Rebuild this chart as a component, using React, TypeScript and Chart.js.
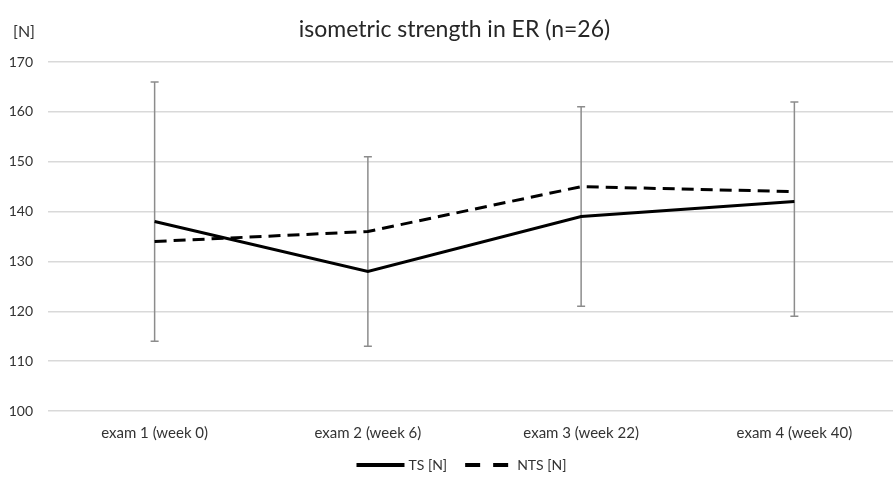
import React, { useEffect, useRef } from "react";
import { Chart, registerables } from "chart.js";

Chart.register(...registerables);

const categories = ["exam 1 (week 0)", "exam 2 (week 6)", "exam 3 (week 22)", "exam 4 (week 40)"];
const seriesNames = ["TS [N]", "NTS [N]"];
const tsValues = [138, 128, 139, 142];
const ntsValues = [134, 136, 145, 144];
const errLow = [114, 113, 121, 119];
const errHigh = [166, 151, 161, 162];
const yTicks = [100, 110, 120, 130, 140, 150, 160, 170];
const chartTitle = "isometric strength in ER (n=26)";
const unitLabel = "[N]";

const FONT = "Lato, 'Open Sans', sans-serif";
const TEXT = "#333333";

const errorBarPlugin = {
  id: "errorBars",
  beforeDatasetsDraw(chart: any) {
    const { ctx, scales } = chart;
    const x = scales.x;
    const y = scales.y;
    ctx.save();
    ctx.strokeStyle = "#8c8c8c";
    ctx.lineWidth = 1.5;
    for (let i = 0; i < categories.length; i++) {
      const px = x.getPixelForValue(i);
      const yl = y.getPixelForValue(errLow[i]);
      const yh = y.getPixelForValue(errHigh[i]);
      ctx.beginPath();
      ctx.moveTo(px, yl);
      ctx.lineTo(px, yh);
      ctx.moveTo(px - 4, yl);
      ctx.lineTo(px + 4, yl);
      ctx.moveTo(px - 4, yh);
      ctx.lineTo(px + 4, yh);
      ctx.stroke();
    }
    ctx.restore();
  },
};

const decorPlugin = {
  id: "decor",
  afterDraw(chart: any) {
    const { ctx, chartArea } = chart;
    const mid = (chartArea.left + chartArea.right) / 2;
    ctx.save();
    // title
    ctx.font = `23px ${FONT}`;
    ctx.fillStyle = "#262626";
    ctx.textAlign = "center";
    ctx.textBaseline = "middle";
    ctx.fillText(chartTitle, mid - 20, 30);
    // unit label
    ctx.font = `16px ${FONT}`;
    ctx.fillStyle = TEXT;
    ctx.textAlign = "right";
    ctx.fillText(unitLabel, chartArea.left - 13, 32);
    // legend
    ctx.font = `14px ${FONT}`;
    const lineLen = 48;
    const gap = 4;
    const spacing = 18;
    const widths = chart.data.datasets.map((d: any) => ctx.measureText(d.label).width);
    const total = widths.reduce((a: number, w: number) => a + lineLen + gap + w, 0) + spacing * (widths.length - 1);
    let lx = mid - 13 - total / 2;
    const ly = chart.height - 14;
    chart.data.datasets.forEach((d: any, i: number) => {
      ctx.strokeStyle = d.borderColor;
      ctx.lineWidth = 4;
      ctx.setLineDash(d.borderDash ? [15, 13] : []);
      ctx.beginPath();
      ctx.moveTo(lx, ly);
      ctx.lineTo(lx + lineLen, ly);
      ctx.stroke();
      ctx.setLineDash([]);
      ctx.fillStyle = TEXT;
      ctx.textAlign = "left";
      ctx.fillText(d.label, lx + lineLen + gap, ly);
      lx += lineLen + gap + widths[i] + spacing;
    });
    ctx.restore();
  },
};

export default function App() {
  const ref = useRef<HTMLCanvasElement>(null);
  useEffect(() => {
    if (!ref.current) return;
    const chart = new Chart(ref.current, {
      type: "line",
      data: {
        labels: categories,
        datasets: [
          {
            label: seriesNames[0],
            data: tsValues,
            borderColor: "#000",
            backgroundColor: "#000",
            borderWidth: 3,
            pointRadius: 0,
            tension: 0,
          },
          {
            label: seriesNames[1],
            data: ntsValues,
            borderColor: "#000",
            backgroundColor: "#000",
            borderWidth: 3,
            borderDash: [12, 7],
            pointRadius: 0,
            tension: 0,
          },
        ],
      },
      options: {
        responsive: false,
        animation: false,
        layout: { padding: { left: 0, right: 0, top: 62, bottom: 28 } },
        plugins: {
          title: { display: false },
          legend: { display: false },
          tooltip: { enabled: false },
        },
        scales: {
          x: {
            offset: true,
            grid: { display: false, drawTicks: false },
            border: { display: false },
            afterFit(scale: any) {
              scale.height = 40;
            },
            ticks: {
              color: TEXT,
              font: { family: FONT, size: 15 },
              padding: 13,
              maxRotation: 0,
            },
          },
          y: {
            min: 100,
            max: 170,
            afterFit(scale: any) {
              scale.width = 48;
            },
            afterBuildTicks(scale: any) {
              scale.ticks = yTicks.map((v) => ({ value: v }));
            },
            grid: { color: "#d9d9d9", lineWidth: 1.5, drawTicks: false },
            border: { display: false },
            ticks: {
              color: TEXT,
              font: { family: FONT, size: 14 },
              padding: 15,
            },
          },
        },
      },
      plugins: [errorBarPlugin, decorPlugin],
    });
    return () => chart.destroy();
  }, []);
  return (
    <div style={{ position: "absolute", left: 0, top: 0, width: 893, height: 479, overflow: "hidden", background: "#fff" }}>
      <canvas ref={ref} width={901} height={479} style={{ display: "block" }} />
    </div>
  );
}
